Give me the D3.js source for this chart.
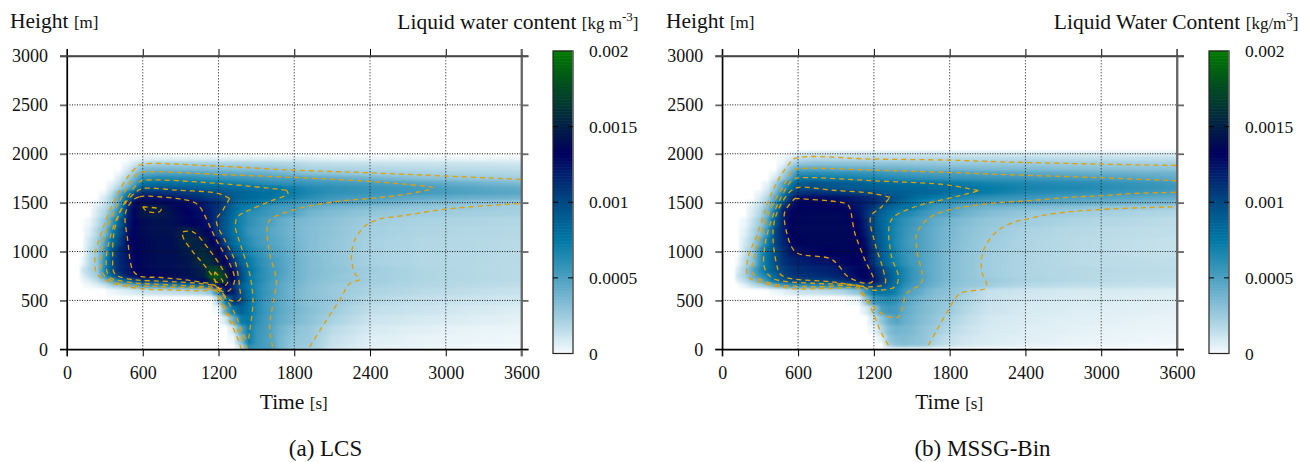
<!DOCTYPE html>
<html>
<head>
<meta charset="utf-8">
<title>Liquid water content</title>
<script src="https://cdn.jsdelivr.net/npm/d3@7"></script>
<style>
body { margin: 0; background: #fff; }
text { font-family: "Liberation Serif", "Times New Roman", serif; fill: #111; }
</style>
</head>
<body>
<svg id="chart" width="1299" height="462"></svg>
<script>
// time of each column [s] and height of each row [m]
var times = [120,180,240,300,360,420,480,540,600,720,840,960,1080,1140,1200,1260,1320,1380,1440,1500,1560,1620,1680,1800,1920,2100,2400,2800,3200,3600];
var lcsHeights = [2000,1950,1900,1850,1800,1750,1700,1650,1600,1550,1500,1450,1400,1300,1200,1100,1000,900,800,750,700,650,600,500,400,300,200,100,0];
var mssgHeights = [2000,1950,1900,1850,1800,1750,1700,1650,1600,1550,1500,1450,1400,1300,1200,1100,1000,900,800,750,700,650,600,500,400,300,200,100,40,0];

// liquid water content, in 1e-5 kg/m3 (one row per height)
var lcsValues = [
[0,0,0,0,0,0,0,0,0,0,0,0,0,0,0,0,0,0,0,0,0,0,0,0,0,0,0,0,0,0],
[0,0,0,0,0,0,0,2,5,6,6,6,6,6,6,6,6,6,6,6,6,6,6,6,6,4,4,4,3,3],
[0,0,0,0,0,0,3,10,18,23,23,23,23,23,23,22,22,22,22,21,21,21,20,19,16,15,14,13,12,11],
[0,0,0,0,0,0,8,20,32,34,34,33,33,32,32,31,31,30,30,30,29,28,27,24,21,20,19,17,16,15],
[0,0,0,0,0,3,15,28,45,48,48,48,47,46,46,45,44,43,43,42,41,40,38,35,31,29,25,23,21,19],
[0,0,0,0,0,10,22,40,60,65,64,62,60,59,58,57,56,55,54,53,52,51,51,50,47,43,38,31,27,23],
[0,0,0,0,5,15,30,50,75,80,79,78,75,74,73,71,70,68,66,64,62,60,59,58,56,54,51,46,40,34],
[0,0,0,0,10,24,42,65,92,95,93,90,87,86,85,84,82,80,78,77,76,75,75,70,64,60,57,53,47,43],
[0,0,0,3,18,42,70,100,112,112,110,108,103,100,98,95,90,87,84,82,80,80,76,72,66,60,57,54,49,46],
[0,0,0,10,25,50,85,115,125,124,122,116,110,106,103,100,92,86,84,82,80,78,74,68,62,55,51,44,41,39],
[0,0,3,12,24,52,105,130,138,135,130,128,123,117,112,103,88,80,78,76,70,66,62,56,53,50,45,36,30,26],
[0,0,8,16,30,65,112,135,150,151,138,130,122,116,110,100,85,76,73,66,60,56,53,52,44,38,33,28,26,23],
[0,0,10,20,42,72,115,135,146,148,140,132,125,118,108,95,82,70,62,60,57,54,52,47,38,33,28,25,23,22],
[0,3,15,28,56,90,120,132,138,142,140,134,128,120,105,92,78,68,61,56,52,49,44,37,34,30,24,21,20,19],
[0,7,20,35,70,98,122,134,138,142,142,152,138,127,104,92,78,68,58,54,51,46,43,37,33,29,23,20,19,18],
[0,12,24,48,82,105,126,134,136,140,140,154,150,136,122,100,82,70,62,56,52,48,45,38,33,28,22,19,18,17],
[0,16,27,55,95,115,124,132,136,140,140,148,157,148,132,116,92,78,67,60,55,50,47,39,33,28,22,19,18,17],
[2,18,28,62,100,115,122,132,136,140,140,144,158,155,145,130,108,88,74,65,58,53,50,40,34,29,22,19,18,17],
[10,20,27,68,100,115,122,130,135,138,140,142,150,172,172,148,122,98,78,68,60,55,51,40,34,30,24,20,18,17],
[6,16,24,60,88,106,118,124,133,135,138,142,150,180,185,155,130,100,76,66,60,55,50,40,34,29,23,20,18,17],
[2,8,16,30,50,72,85,95,102,105,112,120,130,158,172,160,125,100,78,68,60,54,48,40,33,29,24,20,18,17],
[0,2,6,12,22,26,35,44,55,58,66,72,85,100,125,132,112,90,75,65,58,52,47,38,32,27,22,19,17,15],
[0,0,0,0,2,5,7,10,12,14,16,18,22,30,70,125,118,98,78,66,58,53,47,37,31,26,21,17,15,13],
[0,0,0,0,0,0,0,0,0,0,0,0,0,0,20,72,108,100,80,66,57,52,46,37,31,27,18,14,12,10],
[0,0,0,0,0,0,0,0,0,0,0,0,0,0,2,48,76,88,78,65,57,52,46,38,32,25,15,12,9,7],
[0,0,0,0,0,0,0,0,0,0,0,0,0,0,0,12,42,72,76,62,55,50,44,36,30,22,12,9,7,5],
[0,0,0,0,0,0,0,0,0,0,0,0,0,0,0,0,12,48,72,58,53,48,40,30,27,17,9,6,4,3],
[0,0,0,0,0,0,0,0,0,0,0,0,0,0,0,0,3,32,72,57,52,48,38,28,26,14,7,4,3,2],
[0,0,0,0,0,0,0,0,0,0,0,0,0,0,0,0,0,14,60,55,52,50,38,26,24,12,5,3,2,1]
];

var mssgValues = [
[0,0,0,0,0,0,0,2,8,10,10,10,10,10,10,10,10,10,10,10,10,10,10,9,9,9,8,8,7,7],
[0,0,0,0,0,0,2,8,16,18,18,18,18,18,18,18,18,18,18,18,18,18,18,18,18,17,17,16,15,15],
[0,0,0,0,0,0,4,18,28,30,30,30,30,30,29,29,29,29,29,28,28,28,28,27,27,27,26,25,24,23],
[0,0,0,0,0,0,12,28,44,45,44,42,41,41,40,40,39,39,38,38,37,37,36,36,35,34,33,31,30,29],
[0,0,0,0,0,4,20,38,60,62,61,60,59,58,58,57,56,55,54,53,52,52,51,51,50,48,46,43,41,39],
[0,0,0,0,0,10,26,46,72,74,72,70,68,67,66,65,64,63,62,62,60,60,59,58,57,57,55,52,48,44],
[0,0,0,0,4,22,46,70,88,95,93,92,89,87,85,84,82,81,80,80,78,77,76,74,72,68,65,62,58,54],
[0,0,0,0,8,28,52,78,100,98,95,92,90,89,88,87,86,86,85,85,84,83,82,80,78,74,68,65,60,56],
[0,0,0,4,14,36,68,100,110,112,110,108,103,101,99,95,92,90,88,87,86,85,84,79,77,72,64,60,56,51],
[0,0,0,8,20,50,80,110,126,128,127,125,120,116,113,107,101,95,90,84,80,78,74,70,66,60,56,50,47,43],
[0,0,4,12,26,56,92,118,130,131,130,127,122,118,115,108,98,90,82,78,72,66,62,58,56,52,49,44,40,36],
[0,0,7,16,34,66,112,126,132,134,133,131,123,115,107,95,87,82,79,76,68,62,56,53,44,39,35,30,27,24],
[0,0,9,20,40,80,118,130,134,136,136,136,125,112,100,88,80,72,66,63,58,54,50,47,40,33,27,24,21,19],
[0,3,14,26,50,92,118,132,135,136,136,136,130,115,98,85,76,66,60,56,52,48,44,38,33,28,24,20,18,16],
[0,6,18,32,60,102,118,132,135,136,136,136,132,118,100,88,74,65,58,53,50,46,42,36,31,26,21,18,16,15],
[0,10,22,44,72,102,115,127,133,136,136,136,134,124,102,88,75,64,57,52,50,46,42,35,30,25,20,17,15,14],
[0,14,26,58,82,98,112,122,126,130,132,135,133,128,106,90,77,66,58,54,50,46,42,34,29,24,20,17,15,14],
[2,18,30,60,80,98,110,115,118,122,124,130,133,126,108,92,78,68,60,54,51,46,42,34,29,24,20,17,16,15],
[8,22,45,65,80,95,105,110,113,116,118,122,130,132,118,104,90,76,66,58,52,46,42,34,29,24,20,18,17,16],
[12,22,42,58,70,85,100,108,110,112,114,120,130,132,122,108,92,76,66,58,52,47,42,34,29,24,20,18,16,15],
[6,16,28,42,62,78,90,97,100,102,103,110,122,127,122,110,92,78,66,58,52,47,42,34,29,26,21,18,16,15],
[0,5,14,20,28,42,50,58,60,62,65,70,85,100,105,100,88,74,62,55,50,44,40,32,28,24,18,15,14,13],
[0,0,0,0,0,2,5,8,12,14,16,20,30,55,73,78,76,68,56,48,44,38,34,29,24,14,11,9,8,7],
[0,0,0,0,0,0,0,0,0,0,0,0,3,30,55,60,62,58,48,43,38,34,31,27,21,13,10,8,7,6],
[0,0,0,0,0,0,0,0,0,0,0,0,0,8,24,50,55,53,45,40,36,33,30,25,19,12,9,7,6,5],
[0,0,0,0,0,0,0,0,0,0,0,0,0,0,12,28,42,48,42,38,34,31,28,21,16,10,8,6,5,4],
[0,0,0,0,0,0,0,0,0,0,0,0,0,0,3,18,33,38,37,35,31,28,25,18,13,9,7,5,4,3],
[0,0,0,0,0,0,0,0,0,0,0,0,0,0,0,6,28,34,34,32,30,27,21,14,11,8,6,4,3,2],
[0,0,0,0,0,0,0,0,0,0,0,0,0,0,0,0,22,30,32,30,29,26,19,13,10,7,5,3,2,1],
[0,0,0,0,0,0,0,0,0,0,0,0,0,0,0,0,0,0,0,0,0,0,0,0,0,0,0,0,0,0]
];

// contour lines as [time, height]
var lcs25a = [[1380,0],[1367,60],[1288,298],[1208,503],[1168,605],[1075,598],[865,605],[574,622],[336,690],[236,776],[222,963],[244,1083],[310,1320],[390,1560],[482,1765],[561,1874],[600,1895],[1195,1874],[1790,1833],[2320,1809],[3000,1772],[3600,1738]];
var lcs25b = [[1922,25],[2055,298],[2160,503],[2240,673],[2320,715],[2280,776],[2253,946],[2280,1117],[2360,1260],[2465,1328],[2690,1372],[3000,1434],[3600,1492]];
var lcs50 = [[1430,0],[1367,162],[1261,401],[1183,600],[1103,623],[733,640],[415,673],[283,776],[270,912],[296,1150],[362,1372],[442,1577],[561,1800],[627,1816],[1195,1789],[1790,1758],[2320,1724],[2694,1686],[2900,1650],[2637,1577],[2400,1543],[2120,1509],[1790,1424],[1605,1321],[1585,1236],[1605,980],[1658,708],[1632,469],[1605,230],[1632,0]];
var lcs75 = [[1737,1628],[1195,1697],[627,1731],[574,1714],[468,1526],[389,1322],[336,1117],[310,878],[336,742],[468,690],[865,656],[1103,640],[1183,622],[1315,401],[1407,128],[1433,94],[1446,179],[1473,503],[1446,776],[1380,1049],[1334,1253],[1352,1356],[1473,1440],[1632,1526],[1750,1590],[1737,1628]];
var lcs100 = [[1288,1543],[1196,1594],[865,1628],[601,1645],[548,1611],[442,1458],[376,1219],[362,946],[376,776],[468,724],[865,690],[1103,666],[1183,640],[1288,503],[1367,503],[1367,640],[1328,912],[1249,1117],[1183,1321],[1235,1424],[1288,1543]];
var lcs125 = [[574,1560],[627,1567],[997,1509],[1050,1458],[1183,1117],[1288,878],[1328,708],[1288,605],[1235,588],[1168,656],[997,700],[733,735],[574,749],[521,810],[481,1117],[463,1390],[521,1526],[574,1560]];
var lcs150a = [[600,1458],[746,1430],[720,1400],[627,1417],[600,1458]];
var lcs150b = [[918,1202],[997,1202],[1129,1014],[1235,810],[1275,690],[1209,622],[1156,741],[1077,878],[997,997],[918,1151],[918,1202]];
var lcs175 = [[1170,793],[1235,690],[1180,690],[1170,793]];

var mssg25a = [[1315,43],[1262,160],[1196,366],[1130,537],[1077,622],[865,622],[548,622],[337,674],[205,742],[205,946],[270,1151],[363,1509],[442,1731],[522,1884],[575,1952],[1195,1945],[1790,1935],[2200,1918],[2993,1894],[3600,1880]];
var mssg25b = [[1632,43],[1698,196],[1790,401],[1883,570],[2081,622],[2094,657],[2055,793],[2055,946],[2094,1083],[2187,1219],[2319,1305],[2400,1328],[2596,1383],[2993,1430],[3600,1458]];
var mssg50 = [[3600,1724],[2993,1755],[2200,1789],[1790,1809],[1195,1833],[627,1850],[561,1833],[482,1662],[390,1458],[310,1185],[257,980],[244,776],[390,673],[733,640],[1077,640],[1103,570],[1288,350],[1394,332],[1460,570],[1580,690],[1540,1014],[1540,1185],[1632,1338],[1790,1424],[2200,1502],[2398,1516],[2729,1553],[2993,1570],[3257,1594],[3600,1605]];
var mssg75 = [[2028,1622],[1790,1680],[1196,1724],[627,1755],[561,1738],[468,1560],[389,1322],[336,1049],[336,827],[402,725],[733,675],[1077,655],[1183,605],[1367,640],[1394,742],[1340,946],[1320,1253],[1354,1349],[1526,1458],[1790,1543],[1950,1594],[2028,1622]];
var mssg100 = [[1328,1553],[1196,1594],[865,1628],[601,1655],[535,1611],[442,1424],[402,1219],[429,878],[468,758],[865,690],[1183,640],[1288,673],[1275,810],[1209,1083],[1175,1356],[1262,1458],[1328,1553]];
var mssg125 = [[574,1543],[944,1502],[997,1475],[1050,1185],[1130,912],[1196,708],[1156,674],[997,741],[918,861],[852,929],[600,980],[548,1049],[495,1287],[495,1407],[574,1543]];

// axis ticks and colour bar
var timeTicks = [0,600,1200,1800,2400,3000,3600];
var heightTicks = [0,500,1000,1500,2000,2500,3000];
var colorTicks = [0,0.0005,0.001,0.0015,0.002];
var colorLabels = ["0","0.0005","0.001","0.0015","0.002"];
var colorDomain = [0,25,50,75,100,132,150,175,200];
var colorRange = ["#f6fbfd","#9ccbdd","#4ca0c1","#0078a6","#004a84","#00005e","#011f45","#024a24","#007a00"];

var svg = d3.select("#chart");
var defs = svg.append("defs");
var color = d3.scaleLinear().domain(colorDomain).range(colorRange).clamp(true);

// small vertical blur so the rows read as the finer grid of the reference
var filter = defs.append("filter")
    .attr("id", "soft")
    .attr("color-interpolation-filters", "sRGB")
    .attr("x", "0%").attr("y", "-5%").attr("width", "100%").attr("height", "110%");
filter.append("feGaussianBlur").attr("stdDeviation", "0 1.6");

// row edges are half way between two neighbouring heights
function edges(list, low, high) {
    var out = [low];
    for (var i = 1; i < list.length; i++) out.push((list[i - 1] + list[i]) / 2);
    out.push(high);
    return out;
}

function stopColor(v) {
    return v > 0 ? color(v) : "#ffffff";
}

function drawPanel(p) {
    var x = d3.scaleLinear().domain([0, 3600]).range(p.xRange);
    var y = d3.scaleLinear().domain([0, 3000]).range([349.3, 56]);
    var g = svg.append("g");

    defs.append("clipPath").attr("id", "clip" + p.id)
        .append("rect")
        .attr("x", p.xRange[0]).attr("y", 56)
        .attr("width", p.xRange[1] - p.xRange[0]).attr("height", 293.3);

    // heat map, one rect per height row with the row's values as colour stops
    var hEdge = edges(p.heights, 2025, -100);
    var width = x(3600) - x(0);
    p.values.forEach(function (row, r) {
        var grad = defs.append("linearGradient").attr("id", "row" + p.id + r);
        // nothing left of the first column
        grad.append("stop").attr("offset", (x(times[0] - 30) - x(0)) / width).attr("stop-color", "#ffffff");
        times.forEach(function (t, c) {
            grad.append("stop").attr("offset", (x(t) - x(0)) / width).attr("stop-color", stopColor(row[c]));
            if (c < times.length - 1) {
                // extra stops keep the blend on the colour scale
                [0.25, 0.5, 0.75].forEach(function (f) {
                    var tm = t + (times[c + 1] - t) * f;
                    var vm = row[c] + (row[c + 1] - row[c]) * f;
                    grad.append("stop").attr("offset", (x(tm) - x(0)) / width).attr("stop-color", stopColor(vm));
                });
            }
        });
    });
    g.append("g").attr("clip-path", "url(#clip" + p.id + ")")
        .append("g").attr("filter", "url(#soft)")
        .selectAll("rect")
        .data(p.values)
        .enter().append("rect")
        .attr("x", x(0))
        .attr("y", function (d, r) { return y(hEdge[r]); })
        .attr("width", width)
        .attr("height", function (d, r) { return y(hEdge[r + 1]) - y(hEdge[r]) + 0.6; })
        .attr("fill", function (d, r) { return "url(#row" + p.id + r + ")"; });

    // dotted grid
    g.selectAll(".gridx")
        .data(timeTicks.slice(1, -1))
        .enter().append("line")
        .attr("x1", x).attr("x2", x)
        .attr("y1", y(0)).attr("y2", y(3000))
        .attr("stroke", "#111").attr("stroke-width", 1).attr("stroke-dasharray", "1,2");
    g.selectAll(".gridy")
        .data(heightTicks.slice(1, -1))
        .enter().append("line")
        .attr("x1", x(0)).attr("x2", x(3600))
        .attr("y1", y).attr("y2", y)
        .attr("stroke", "#111").attr("stroke-width", 1).attr("stroke-dasharray", "1,1.5");

    // contours
    var line = d3.line()
        .x(function (d) { return x(d[0]); })
        .y(function (d) { return y(d[1]); })
        .curve(d3.curveCatmullRom.alpha(0.5));
    g.append("g").attr("clip-path", "url(#clip" + p.id + ")")
        .selectAll("path")
        .data(p.contours)
        .enter().append("path")
        .attr("d", line)
        .attr("fill", "none")
        .attr("stroke", "#e69f00")
        .attr("stroke-width", 1.3)
        .attr("stroke-dasharray", "5,4");

    // axes, the mirrored ones have no labels
    var bottom = g.append("g").attr("transform", "translate(0," + y(0) + ")")
        .call(d3.axisBottom(x).tickValues(timeTicks).tickSize(7).tickSizeOuter(0).tickPadding(10).tickFormat(d3.format("d")));
    var left = g.append("g").attr("transform", "translate(" + x(0) + ",0)")
        .call(d3.axisLeft(y).tickValues(heightTicks).tickSize(7).tickSizeOuter(0).tickPadding(12).tickFormat(d3.format("d")));
    var top = g.append("g").attr("transform", "translate(0," + y(3000) + ")")
        .call(d3.axisTop(x).tickValues(timeTicks).tickSize(7).tickSizeOuter(0).tickFormat(""));
    var right = g.append("g").attr("transform", "translate(" + x(3600) + ",0)")
        .call(d3.axisRight(y).tickValues(heightTicks).tickSize(7).tickSizeOuter(0).tickFormat(""));

    [bottom, left, top, right].forEach(function (a) {
        a.selectAll("text").style("font-size", "18px").style("font-family", "Liberation Serif");
    });
    bottom.select(".domain").attr("stroke", "#000").attr("stroke-width", 1.2);
    left.select(".domain").attr("stroke", "#000").attr("stroke-width", 1.2);
    top.select(".domain").attr("stroke", "#444").attr("stroke-width", 1.5);
    right.select(".domain").attr("stroke", "#666").attr("stroke-width", 1.8);
    left.selectAll("line").attr("stroke", "#666").attr("stroke-width", 1.8);
    right.selectAll("line").attr("stroke", "#666").attr("stroke-width", 1.8);

    // extend the axis lines over the corners like the ticks do
    g.append("line").attr("x1", x(0)).attr("x2", x(0)).attr("y1", y(3000) - 7).attr("y2", y(0) + 7)
        .attr("stroke", "#000").attr("stroke-width", 1.2);
    g.append("line").attr("x1", x(3600)).attr("x2", x(3600)).attr("y1", y(3000) - 7).attr("y2", y(0) + 7)
        .attr("stroke", "#666").attr("stroke-width", 1.8);
    g.append("line").attr("x1", x(0) - 7).attr("x2", x(3600) + 7).attr("y1", y(0)).attr("y2", y(0))
        .attr("stroke", "#000").attr("stroke-width", 1.2);
    g.append("line").attr("x1", x(0) - 7).attr("x2", x(3600) + 7).attr("y1", y(3000)).attr("y2", y(3000))
        .attr("stroke", "#444").attr("stroke-width", 1.5);

    // colour bar
    var c = d3.scaleLinear().domain([0, 0.002]).range([353.5, 51]);
    var steps = d3.range(0, 200);
    g.append("g").selectAll("rect")
        .data(steps)
        .enter().append("rect")
        .attr("x", p.barX).attr("width", 20)
        .attr("y", function (d) { return c((d + 1) / 100000) - 0.3; })
        .attr("height", function (d) { return c(d / 100000) - c((d + 1) / 100000) + 0.6; })
        .attr("fill", function (d) { return color(d + 0.5); });
    g.append("rect").attr("x", p.barX).attr("y", c(0.002)).attr("width", 20).attr("height", c(0) - c(0.002))
        .attr("fill", "none").attr("stroke", "#222").attr("stroke-width", 1.2);
    g.append("line").attr("x1", p.barX + 20).attr("x2", p.barX + 20).attr("y1", c(0.002)).attr("y2", c(0))
        .attr("stroke", "#777").attr("stroke-width", 1.4);
    g.selectAll(".barticka")
        .data(colorTicks.slice(1, -1))
        .enter().append("line")
        .attr("x1", p.barX).attr("x2", p.barX + 5)
        .attr("y1", c).attr("y2", c)
        .attr("stroke", "#000");
    g.selectAll(".bartickb")
        .data(colorTicks.slice(1, -1))
        .enter().append("line")
        .attr("x1", p.barX + 15).attr("x2", p.barX + 20)
        .attr("y1", c).attr("y2", c)
        .attr("stroke", "#000");
    g.selectAll(".barlabel")
        .data(colorTicks)
        .enter().append("text")
        .attr("x", p.barX + 36)
        .attr("y", function (d) { return c(d) + 6; })
        .attr("font-size", 17.5)
        .text(function (d, i) { return colorLabels[i]; });

    // labels
    var h = g.append("text").attr("x", p.heightX).attr("y", 28).attr("font-size", 21.5);
    h.append("tspan").text("Height ");
    h.append("tspan").attr("font-size", 17).text("[m]");

    var tl = g.append("text").attr("x", (p.xRange[0] + p.xRange[1]) / 2 - 0.5).attr("y", 409)
        .attr("text-anchor", "middle").attr("font-size", 21.5);
    tl.append("tspan").text("Time ");
    tl.append("tspan").attr("font-size", 17).text("[s]");

    var title = g.append("text").attr("x", p.titleX).attr("y", 29).attr("text-anchor", "end").attr("font-size", 21.5);
    title.append("tspan").text(p.title + " ");
    title.append("tspan").attr("font-size", 17).text(p.unit);
    title.append("tspan").attr("font-size", 13).attr("dy", -8).text(p.sup);
    title.append("tspan").attr("font-size", 17).attr("dy", 8).text("]");

    g.append("text").attr("x", p.captionX).attr("y", 456).attr("text-anchor", "middle").attr("font-size", 23).text(p.caption);
}

drawPanel({
    id: "a", xRange: [67, 521.5], heights: lcsHeights, values: lcsValues,
    contours: [lcs25a, lcs25b, lcs50, lcs75, lcs100, lcs125, lcs150a, lcs150b, lcs175],
    barX: 553, heightX: 10, titleX: 638.5,
    title: "Liquid water content", unit: "[kg m", sup: "-3", caption: "(a) LCS", captionX: 325.5
});
drawPanel({
    id: "b", xRange: [722.3, 1177], heights: mssgHeights, values: mssgValues,
    contours: [mssg25a, mssg25b, mssg50, mssg75, mssg100, mssg125],
    barX: 1209, heightX: 666, titleX: 1298.5,
    title: "Liquid Water Content", unit: "[kg/m", sup: "3", caption: "(b) MSSG-Bin", captionX: 982.5
});
</script>
</body>
</html>
